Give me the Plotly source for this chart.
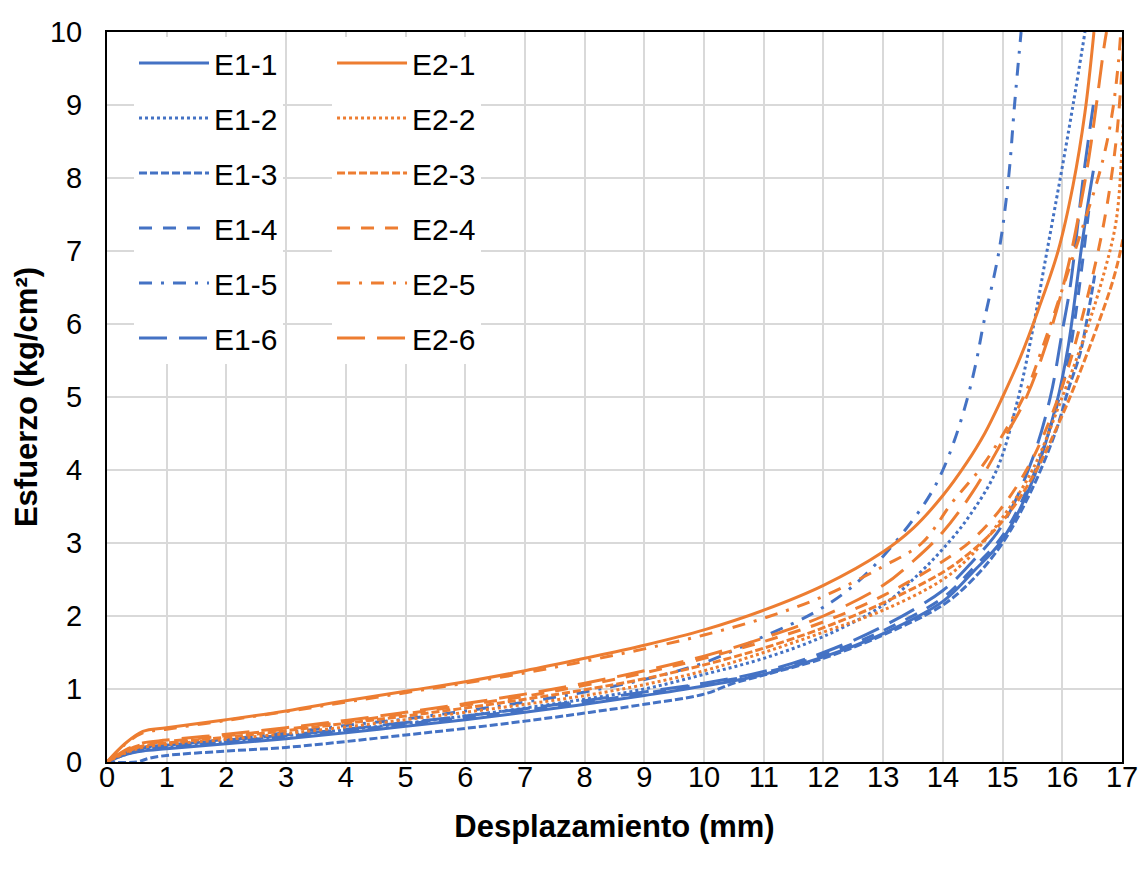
import plotly.graph_objects as go

# ---------------- data ----------------
E1_1_x = [0, 0.3, 0.6, 1, 2, 3, 4, 5, 6, 7, 8, 9, 10, 11, 12, 13, 14, 14.5, 15, 15.5, 15.9, 16.1, 16.25, 16.33, 16.42, 16.52]
E1_1_y = [0, 0.10, 0.15, 0.18, 0.25, 0.32, 0.40, 0.49, 0.58, 0.68, 0.79, 0.91, 1.04, 1.20, 1.44, 1.76, 2.20, 2.60, 3.05, 3.85, 4.90, 5.70, 6.60, 7.10, 7.60, 8.10]

E1_2_x = [0, 0.3, 0.6, 1, 2, 3, 4, 5, 6, 7, 8, 9, 10, 11, 12, 13, 13.6, 14, 14.4, 14.9, 15.25, 15.5, 15.7, 15.9, 16.0, 16.18, 16.38]
E1_2_y = [0, 0.10, 0.16, 0.20, 0.28, 0.36, 0.44, 0.53, 0.63, 0.74, 0.86, 1.00, 1.20, 1.42, 1.72, 2.15, 2.58, 2.92, 3.32, 4.00, 4.95, 5.90, 6.80, 7.70, 8.15, 9.00, 10.0]

E1_3_x = [0, 0.5, 0.7, 1, 2, 3, 4, 5, 6, 7, 8, 9, 10, 10.5, 11, 12, 13, 14, 14.5, 15, 15.5, 15.9, 16.1, 16.3, 16.4, 16.55]
E1_3_y = [0, 0.0, 0.05, 0.09, 0.15, 0.20, 0.28, 0.37, 0.46, 0.56, 0.67, 0.79, 0.93, 1.08, 1.19, 1.42, 1.74, 2.15, 2.50, 3.00, 3.75, 4.55, 5.10, 5.60, 6.00, 6.70]

E1_4_x = [0, 0.3, 0.6, 1, 2, 3, 4, 5, 6, 7, 8, 9, 10, 11, 12, 13, 14, 14.5, 15, 15.5, 15.9, 16.1, 16.2, 16.3, 16.45]
E1_4_y = [0, 0.12, 0.18, 0.21, 0.28, 0.35, 0.43, 0.52, 0.61, 0.71, 0.82, 0.94, 1.07, 1.22, 1.47, 1.80, 2.25, 2.65, 3.10, 3.90, 4.85, 5.50, 6.00, 6.60, 7.60]

E1_5_x = [0, 0.3, 0.6, 1, 2, 3, 4, 5, 6, 7, 8, 9, 10, 11, 11.83, 12.45, 13.0, 13.5, 13.8, 14.0, 14.2, 14.4, 14.55, 14.68, 14.94, 15.1, 15.2, 15.31]
E1_5_y = [0, 0.12, 0.19, 0.23, 0.31, 0.40, 0.50, 0.59, 0.70, 0.82, 0.96, 1.13, 1.36, 1.72, 2.04, 2.38, 2.82, 3.32, 3.68, 4.00, 4.42, 4.95, 5.45, 6.00, 7.00, 8.00, 9.00, 10.0]

E1_6_x = [0, 0.3, 0.6, 1, 2, 3, 4, 5, 6, 7, 8, 9, 10, 11, 12, 13, 14, 14.5, 15, 15.5, 15.8, 16.0, 16.13, 16.25, 16.35, 16.45, 16.52]
E1_6_y = [0, 0.13, 0.20, 0.23, 0.30, 0.37, 0.45, 0.54, 0.63, 0.73, 0.84, 0.96, 1.08, 1.24, 1.50, 1.86, 2.35, 2.75, 3.25, 4.15, 5.00, 5.90, 6.50, 7.30, 8.00, 8.60, 9.00]

E2_1_x = [0, 0.3, 0.6, 1, 2, 3, 4, 5, 6, 7, 8, 9, 10, 11, 12, 13, 13.5, 14, 14.4, 14.7, 15, 15.3, 15.6, 15.93, 16.18, 16.38, 16.53]
E2_1_y = [0, 0.25, 0.42, 0.47, 0.58, 0.70, 0.84, 0.97, 1.10, 1.25, 1.42, 1.60, 1.81, 2.08, 2.42, 2.88, 3.20, 3.65, 4.10, 4.50, 5.00, 5.55, 6.20, 7.00, 7.90, 8.90, 10.0]

E2_2_x = [0, 0.3, 0.6, 1, 2, 3, 4, 5, 6, 7, 8, 9, 10, 11, 12, 13, 14, 14.5, 15, 15.5, 16, 16.4, 16.7, 16.9, 17.0, 17.03]
E2_2_y = [0, 0.12, 0.20, 0.24, 0.31, 0.39, 0.48, 0.58, 0.68, 0.79, 0.91, 1.06, 1.25, 1.50, 1.78, 2.08, 2.50, 2.85, 3.35, 4.00, 5.00, 5.90, 6.70, 7.40, 8.40, 9.00]

E2_3_x = [0, 0.3, 0.6, 1, 2, 3, 4, 5, 6, 7, 8, 9, 10, 11, 12, 13, 14, 14.5, 15, 15.5, 16, 16.3, 16.6, 16.85, 17.0, 17.1]
E2_3_y = [0, 0.13, 0.22, 0.26, 0.34, 0.43, 0.53, 0.63, 0.74, 0.86, 0.99, 1.14, 1.33, 1.56, 1.84, 2.18, 2.60, 2.90, 3.30, 3.90, 4.75, 5.35, 6.00, 6.60, 7.10, 7.60]

E2_4_x = [0, 0.3, 0.6, 1, 2, 3, 4, 5, 6, 7, 8, 9, 10, 11, 12, 13, 14, 14.5, 15, 15.5, 16, 16.4, 16.7, 16.9, 17.0, 17.05]
E2_4_y = [0, 0.15, 0.24, 0.28, 0.36, 0.45, 0.55, 0.66, 0.78, 0.90, 1.05, 1.22, 1.42, 1.65, 1.92, 2.28, 2.75, 3.05, 3.50, 4.15, 5.15, 6.30, 7.40, 8.50, 9.50, 10.2]

E2_5_x = [0, 0.3, 0.6, 1, 2, 3, 4, 5, 6, 7, 8, 9, 10, 11, 12, 13, 13.65, 14.15, 14.7, 15.35, 15.7, 16.05, 16.35, 16.6, 16.75, 16.85, 16.93, 16.98]
E2_5_y = [0, 0.24, 0.40, 0.45, 0.57, 0.69, 0.82, 0.95, 1.08, 1.22, 1.38, 1.55, 1.74, 1.97, 2.27, 2.68, 3.00, 3.55, 4.10, 5.00, 5.75, 6.60, 7.35, 8.00, 8.50, 8.96, 9.50, 10.0]

E2_6_x = [0, 0.3, 0.6, 1, 2, 3, 4, 5, 6, 7, 8, 9, 10, 11, 12, 13, 13.5, 14, 14.5, 15, 15.4, 15.8, 16.1, 16.3, 16.45, 16.57, 16.7, 16.74]
E2_6_y = [0, 0.16, 0.26, 0.30, 0.38, 0.47, 0.57, 0.68, 0.80, 0.93, 1.08, 1.25, 1.45, 1.70, 2.00, 2.42, 2.75, 3.15, 3.70, 4.40, 5.00, 5.90, 6.80, 7.60, 8.30, 9.00, 9.80, 10.0]

X_TICKS = list(range(0, 18))
Y_TICKS = list(range(0, 11))

# ---------------- styling ----------------
BLUE = "#4472C4"
ORANGE = "#ED7D31"
DASH = {
    "1": "solid",
    "2": "3px,3px",
    "3": "8px,3px",
    "4": "13px,11px",
    "5": "13px,9px,3px,9px",
    "6": "28px,12px",
}
FONT = "Liberation Sans, Arial, sans-serif"

series = [
    ("E1-1", E1_1_x, E1_1_y), ("E1-2", E1_2_x, E1_2_y), ("E1-3", E1_3_x, E1_3_y),
    ("E1-4", E1_4_x, E1_4_y), ("E1-5", E1_5_x, E1_5_y), ("E1-6", E1_6_x, E1_6_y),
    ("E2-1", E2_1_x, E2_1_y), ("E2-2", E2_2_x, E2_2_y), ("E2-3", E2_3_x, E2_3_y),
    ("E2-4", E2_4_x, E2_4_y), ("E2-5", E2_5_x, E2_5_y), ("E2-6", E2_6_x, E2_6_y),
]

fig = go.Figure()
for name, xs, ys in series:
    grp, idx = name[1], name[-1]
    color = BLUE if grp == "1" else ORANGE
    fig.add_trace(go.Scatter(
        x=xs, y=ys, name=name, mode="lines",
        line=dict(color=color, width=3, dash=DASH[idx], shape="spline", smoothing=1.0),
        legend="legend" if grp == "1" else "legend2",
        legendgroup=name,
    ))

legend_common = dict(
    bgcolor="white", borderwidth=0,
    font=dict(family=FONT, size=30, color="#000000"),
    tracegroupgap=13, xanchor="left", yanchor="top", y=0.993,
    itemwidth=70,
)

fig.update_layout(
    width=1143, height=873,
    margin=dict(l=107, r=21, t=32, b=111, autoexpand=False),
    paper_bgcolor="white", plot_bgcolor="white",
    font=dict(family=FONT, size=28, color="#000000"),
    legend=dict(x=0.0266, **legend_common),
    legend2=dict(x=0.2217, **legend_common),
    shapes=[dict(type="rect", xref="paper", yref="paper", x0=0, x1=0.397, y0=0.534, y1=0.981,
                 fillcolor="white", line=dict(width=0), layer="between")],
    xaxis=dict(
        range=[0, 17], tickvals=X_TICKS, showgrid=True, gridcolor="#D9D9D9", gridwidth=2,
        showline=True, linecolor="black", linewidth=2, mirror=True, ticks="",
        zeroline=False, automargin=False, tickfont=dict(family=FONT, size=29, color="#000000"),
        ticklabelstandoff=-12,
        title=dict(text="<b>Desplazamiento (mm)</b>", font=dict(family=FONT, size=31, color="#000000"), standoff=24),
    ),
    yaxis=dict(
        range=[0, 10], tickvals=Y_TICKS, showgrid=True, gridcolor="#D9D9D9", gridwidth=2,
        showline=True, linecolor="black", linewidth=2, mirror=True, ticks="",
        zeroline=False, automargin=False, tickfont=dict(family=FONT, size=29, color="#000000"),
        ticklabelstandoff=17,
        title=dict(text="<b>Esfuerzo (kg/cm²)</b>", font=dict(family=FONT, size=31, color="#000000"), standoff=3),
    ),
)

fig.write_html("out.html")
